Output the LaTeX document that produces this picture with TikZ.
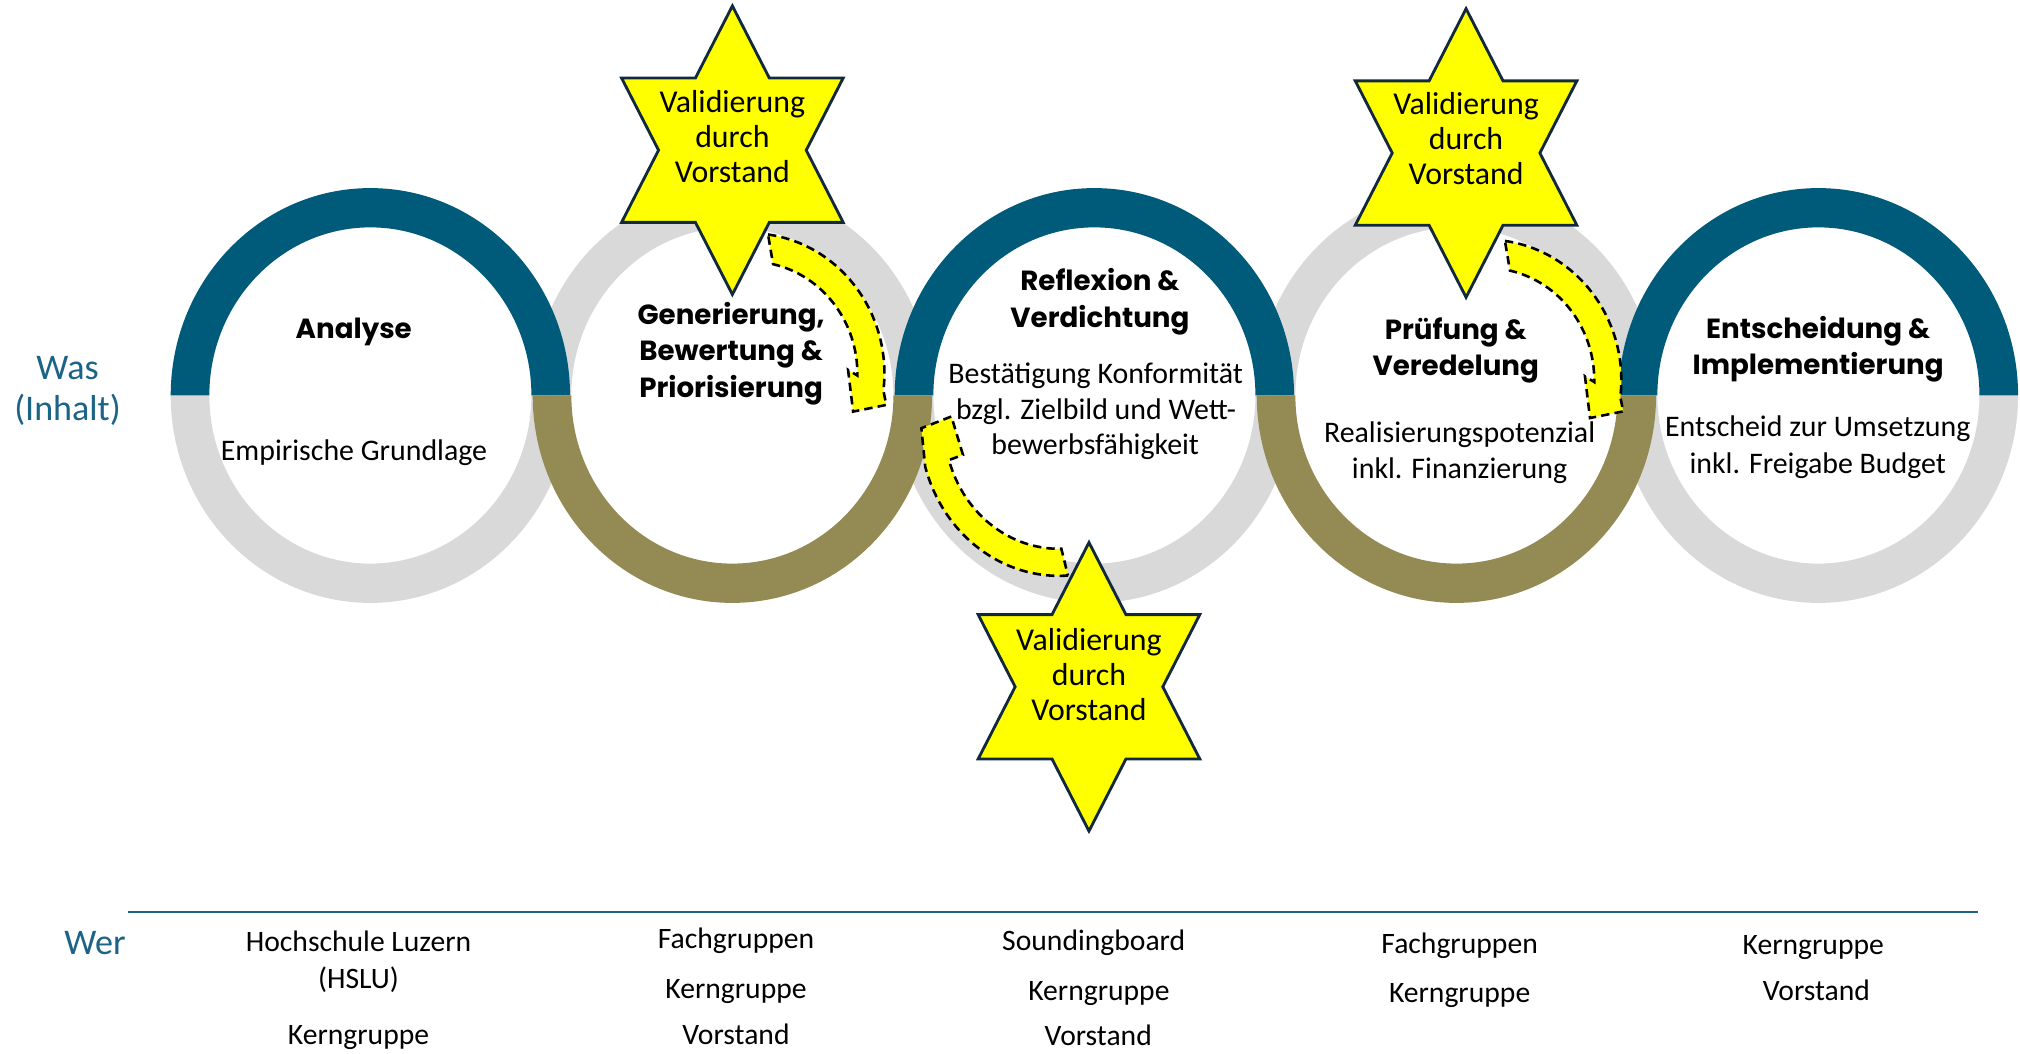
\documentclass[tikz,border=0pt]{standalone}
\usepackage{fontspec}
\setmainfont{Carlito}
\newfontfamily\titlefont{Poppins}
\usetikzlibrary{calc}
\definecolor{ringteal}{RGB}{0,90,122}
\definecolor{ringolive}{RGB}{148,138,84}
\definecolor{ringgray}{RGB}{217,217,217}
\definecolor{labelblue}{RGB}{27,99,135}
\definecolor{starline}{RGB}{18,40,60}
\definecolor{staryellow}{RGB}{255,255,0}
\newcommand\ringhalf[4]{% cx, colour, delta, -delta
  \fill[#2] ($(#1,510.4)+(180:155 and 161)$) arc[start angle=180, delta angle=#3, x radius=155, y radius=161]
    -- ($(#1,510.4)+(180+#3:125 and 130.5)$) arc[start angle=180+#3, delta angle=#4, x radius=125, y radius=130.5] -- cycle;}
\newcommand\hexstar[2]{%
  \begin{scope}[shift={(#1,#2)}]
  \filldraw[starshape] (0,112) -- (28.7,56) -- (86,56) -- (57.3,0) -- (86,-56) -- (28.7,-56) -- (0,-112)
    -- (-28.7,-56) -- (-86,-56) -- (-57.3,0) -- (-86,56) -- (-28.7,56) -- cycle;
  \end{scope}}
\begin{document}
\begin{tikzpicture}[x=1pt,y=1pt,
  starshape/.style={fill=staryellow, draw=starline, line width=2.2pt, line join=miter},
  yarrow/.style={fill=staryellow, draw=black, line width=2pt, dash pattern=on 6.5pt off 4pt},
  ttl/.style={font=\titlefont\bfseries\fontsize{21.5}{28}\selectfont, anchor=base, inner sep=0},
  body/.style={font=\fontsize{23.2}{28}\selectfont, anchor=base, inner sep=0},
  who/.style={font=\fontsize{23}{28}\selectfont, anchor=base, inner sep=0},
  sttxt/.style={font=\fontsize{24.7}{28}\selectfont, anchor=base, inner sep=0},
  lbl/.style={font=\fontsize{28}{32}\selectfont, text=labelblue, anchor=base, inner sep=0}]
\fill[white] (0,0) rectangle (1568,817.4);
\useasboundingbox (0,0) rectangle (1568,817.4);
% rings: gray halves first
\ringhalf{287.5}{ringgray}{180}{-180}
\ringhalf{849.5}{ringgray}{180}{-180}
\ringhalf{1411.5}{ringgray}{180}{-180}
\ringhalf{568.5}{ringgray}{-180}{180}
\ringhalf{1130.5}{ringgray}{-180}{180}
% coloured halves
\ringhalf{287.5}{ringteal}{-180}{180}
\ringhalf{849.5}{ringteal}{-180}{180}
\ringhalf{1411.5}{ringteal}{-180}{180}
\ringhalf{568.5}{ringolive}{180}{-180}
\ringhalf{1130.5}{ringolive}{180}{-180}
% curved arrows
\coordinate (c1) at (582,527.4);
\coordinate (c2) at (822,487.4);
\coordinate (c3) at (1154,522.4);
\path[yarrow] ($(c1)+(82.2:104.5 and 109)$) arc[start angle=82.2, end angle=-7, x radius=104.5, y radius=109]
  -- (688,503.1) -- (662.2,497.9) -- (658.3,530.3)
  -- ($(c1)+(-1:83.5 and 87)$) arc[start angle=-1, end angle=77.5, x radius=83.5, y radius=87] -- cycle;
\path[yarrow] ($(c3)+(82.2:104.5 and 109)$) arc[start angle=82.2, end angle=-7, x radius=104.5, y radius=109]
  -- (1260,498.1) -- (1234.2,492.9) -- (1230.3,525.3)
  -- ($(c3)+(-1:83.5 and 87)$) arc[start angle=-1, end angle=77.5, x radius=83.5, y radius=87] -- cycle;
\path[yarrow] ($(c2)+(-86.3:108 and 117)$) arc[start angle=-86.3, end angle=-164, x radius=108, y radius=117]
  -- (715.2,485) -- (738.5,494.1) -- (747.5,464.3)
  -- ($(c2)+(-163.6:89 and 96)$) arc[start angle=-163.6, end angle=-88.8, x radius=89, y radius=96] -- cycle;
% stars
\hexstar{568.5}{700.8}
\hexstar{1138}{698.6}
\hexstar{845.3}{284.3}
\node[sttxt] (s1a) at (568.5,817.4-87.3) {Validierung};
\node[sttxt] (s1b) at (568.5,817.4-114.5) {durch};
\node[sttxt] (s1c) at (568.5,817.4-141.7) {Vorstand};
\node[sttxt] (s2a) at (1138,817.4-89) {Validierung};
\node[sttxt] (s2b) at (1138,817.4-116.3) {durch};
\node[sttxt] (s2c) at (1138,817.4-143.6) {Vorstand};
\node[sttxt] (s3a) at (845.3,817.4-505) {Validierung};
\node[sttxt] (s3b) at (845.3,817.4-532.2) {durch};
\node[sttxt] (s3c) at (845.3,817.4-559.4) {Vorstand};
% titles
\node[ttl] (t1) at (274.6,817.4-262.5) {Analyse};
\node[ttl] (t2a) at (567.5,817.4-251.7) {Generierung,};
\node[ttl] (t2b) at (567.5,817.4-280) {Bewertung \&};
\node[ttl] (t2c) at (567.5,817.4-308.2) {Priorisierung};
\node[ttl] (t3a) at (853.8,817.4-225.3) {Reflexion \&};
\node[ttl] (t3b) at (853.8,817.4-254.5) {Verdichtung};
\node[ttl] (t4a) at (1130,817.4-263.4) {Prüfung \&};
\node[ttl] (t4b) at (1130,817.4-291.7) {Veredelung};
\node[ttl] (t5a) at (1411.3,817.4-262.5) {Entscheidung \&};
\node[ttl] (t5b) at (1411.3,817.4-290.6) {Implementierung};
% body texts
\node[body] (b1) at (274.8,817.4-357.7) {Empirische Grundlage};
\node[body] (b3a) at (850.5,817.4-297.6) {Bestätigung Konformität};
\node[body] (b3b) at (850.8,817.4-325.3) {bzgl. Zielbild und Wett-};
\node[body] (b3c) at (850.1,817.4-353) {bewerbsfähigkeit};
\node[body] (b4a) at (1133,817.4-343.2) {Realisierungspotenzial};
\node[body] (b4b) at (1133,817.4-371.5) {inkl. Finanzierung};
\node[body] (b5a) at (1411,817.4-339.2) {Entscheid zur Umsetzung};
\node[body] (b5b) at (1411,817.4-367.8) {inkl. Freigabe Budget};
% left labels
\node[lbl] (was) at (52.4,817.4-294.9) {Was};
\node[lbl] (inh) at (52.4,817.4-326.4) {(Inhalt)};
\node[lbl] (wer) at (73.8,817.4-741.2) {Wer};
% separator
\coordinate (lineL) at (99,817.4-708);
\coordinate (lineR) at (1535,817.4-708);
\draw[labelblue, line width=2pt] (lineL) -- (lineR);
% who columns
\node[who] (w1a) at (278.3,817.4-738.5) {Hochschule Luzern};
\node[who] (w1b) at (278.3,817.4-767.5) {(HSLU)};
\node[who] (w1c) at (278.3,817.4-811.1) {Kerngruppe};
\node[who] (w2a) at (571.3,817.4-736.4) {Fachgruppen};
\node[who] (w2b) at (571.3,817.4-775) {Kerngruppe};
\node[who] (w2c) at (571.3,817.4-811.1) {Vorstand};
\node[who] (w3a) at (849,817.4-738) {Soundingboard};
\node[who] (w3b) at (853,817.4-776.8) {Kerngruppe};
\node[who] (w3c) at (852.5,817.4-811.9) {Vorstand};
\node[who] (w4a) at (1133,817.4-739.8) {Fachgruppen};
\node[who] (w4b) at (1133,817.4-778.1) {Kerngruppe};
\node[who] (w5a) at (1407.5,817.4-741.2) {Kerngruppe};
\node[who] (w5b) at (1410,817.4-776.8) {Vorstand};
\end{tikzpicture}
\end{document}
